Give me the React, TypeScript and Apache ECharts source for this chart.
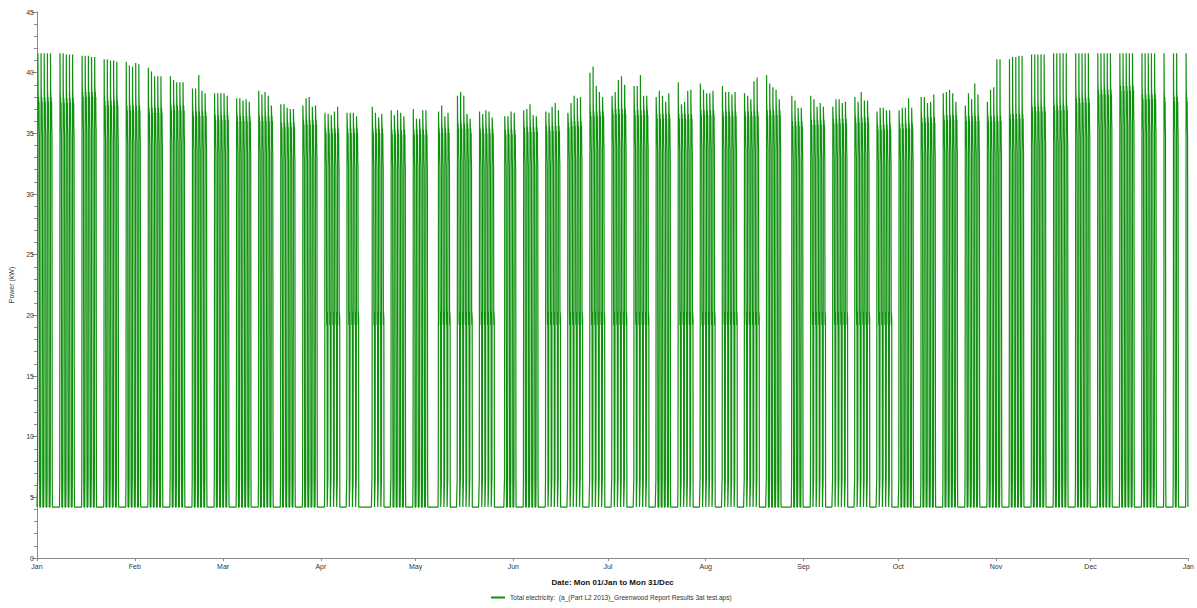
import React, { useEffect, useRef } from "react";
import * as echarts from "echarts";

// Simulation year: Mon 01/Jan to Mon 31/Dec (365 days, hourly results)
const DAYS_IN_YEAR = 365;
const MONTH_LABELS = ["Jan", "Feb", "Mar", "Apr", "May", "Jun", "Jul", "Aug", "Sep", "Oct", "Nov", "Dec", "Jan"];
const MONTH_START_DAYS = [0, 31, 59, 90, 120, 151, 181, 212, 243, 273, 304, 334, 365];

// Load levels (kW)
const BASE_LOAD = 4.2;
const LOW_LOAD = 6.6;
const MID_LOAD = 20.2;

// Hourly shape of an occupied weekday
const MORNING_HOURS = [BASE_LOAD, BASE_LOAD, BASE_LOAD, BASE_LOAD, BASE_LOAD, LOW_LOAD, MID_LOAD]; // 00-06
const PEAK_HOUR = 7;
const DARK_OFFSETS = [0, -0.4, -1.2, -2.4, -0.6, -1.5, -2.2, -1.0, -2.8, -3.4, -3.8]; // 08-18, relative to week's plateau
const WINTER_TAIL = [MID_LOAD, LOW_LOAD, BASE_LOAD, BASE_LOAD, BASE_LOAD]; // 19-23
const SUMMER_TAIL = [20.4, 19.2, 20.3, 19.3, 19.9]; // 19-23

// Daily peak for Mon..Fri of each week (null = holiday)
const DAY_PEAKS: (number | null)[][] = [
  [41.6, 41.6, 41.6, 41.6, 41.6],
  [41.6, 41.6, 41.5, 41.5, 41.5],
  [41.4, 41.4, 41.4, 41.3, 41.3],
  [41.1, 41.1, 41.0, 41.0, 40.9],
  [40.9, 40.6, 40.5, 40.8, 40.7],
  [40.4, 40.1, 39.7, 39.7, 39.7],
  [39.7, 39.4, 39.2, 39.2, 39.2],
  [38.7, 38.7, 39.8, 38.5, 38.3],
  [38.3, 38.3, 38.3, 38.3, 38.1],
  [37.9, 37.9, 37.7, 37.8, 37.6],
  [38.5, 38.2, 38.4, 38.1, 37.3],
  [37.4, 37.4, 37.1, 37.0, 37.0],
  [37.3, 37.9, 38.0, 37.2, 37.3],
  [36.7, 36.6, 36.5, 36.8, 37.2],
  [36.7, 36.7, 36.7, 36.4, null],
  [null, 37.2, 36.7, 36.3, 36.6],
  [36.9, 36.5, 36.9, 36.7, 36.4],
  [37.0, 36.2, 36.2, 36.9, 36.9],
  [null, 36.8, 37.3, 36.4, 36.7],
  [38.1, 38.4, 38.1, 36.6, 36.2],
  [36.8, 36.6, 36.9, 36.8, 36.3],
  [null, 36.4, 36.4, 36.8, 36.7],
  [36.9, 37.0, 37.4, 36.5, 36.4],
  [36.8, 36.7, 37.2, 37.5, 36.9],
  [36.7, 37.5, 38.1, 37.9, 38.0],
  [40.0, 40.5, 38.9, 38.4, 38.0],
  [38.1, 38.4, 39.4, 39.7, 39.0],
  [38.9, 38.9, 39.8, 38.1, 38.1],
  [38.0, 38.5, 38.1, 37.6, 38.3],
  [39.2, 37.4, 37.6, 38.5, 38.6],
  [39.1, 38.6, 38.3, 38.3, 38.5],
  [38.9, 38.4, 38.4, 38.2, 38.4],
  [38.3, 38.1, 37.8, 39.3, 39.6],
  [39.8, 39.1, 38.8, 38.6, 37.8],
  [null, 38.1, 37.7, 37.1, 37.1],
  [38.1, 37.8, 37.2, 37.5, 37.2],
  [37.2, 37.8, 37.8, 37.5, 37.6],
  [38.0, 37.6, 38.4, 37.7, 37.7],
  [36.8, 37.1, 37.1, 36.9, 36.9],
  [36.9, 37.1, 37.1, 37.9, 37.1],
  [38.0, 38.0, 37.5, 37.6, 38.2],
  [38.3, 38.4, 38.6, 38.3, 37.6],
  [37.3, 38.3, 37.8, 39.1, 38.2],
  [37.6, 38.6, 38.8, 41.1, 41.1],
  [41.1, 41.3, 41.3, 41.4, 41.4],
  [41.5, 41.5, 41.5, 41.5, 41.5],
  [41.6, 41.6, 41.6, 41.6, 41.6],
  [41.6, 41.6, 41.6, 41.6, 41.6],
  [41.6, 41.6, 41.6, 41.6, 41.6],
  [41.6, 41.6, 41.6, 41.6, 41.6],
  [41.6, 41.6, 41.6, 41.6, 41.6],
  [41.6, null, null, 41.6, 41.6],
  [41.6],
];

// Plateau level of the occupied hours for each week
const WEEK_PLATEAU = [
  38.6, 38.5, 39.0, 38.3, 37.9, 37.7, 37.9, 37.4, 37.1, 37.0, 37.0, 36.5, 36.7,
  36.0, 36.0, 36.0, 35.9, 35.9, 36.0, 36.4, 36.0, 35.9, 36.1, 36.2, 36.6, 37.4,
  37.6, 37.5, 37.2, 37.2, 37.5, 37.4, 37.4, 37.5, 36.6, 36.7, 36.8, 36.9, 36.3,
  36.4, 36.9, 37.1, 37.0, 37.0, 37.2, 37.8, 37.9, 38.5, 39.2, 39.5, 38.8, 38.6, 38.6,
];

// Weeks showing the hovering ~20 kW evening band
const SUMMER_WEEKS = [13, 14, 15, 18, 19, 20, 23, 24, 25, 26, 27, 29, 30, 31, 32, 35, 36, 37, 38];

const SERIES_NAME = "Total electricity:  (a_(Part L2 2013)_Greenwood Report Results 3at test.aps)";
const X_TITLE = "Date: Mon 01/Jan to Mon 31/Dec";
const Y_TITLE = "Power (kW)";

function buildSeries(): [number, number][] {
  const out: [number, number][] = [];
  for (let day = 0; day < DAYS_IN_YEAR; day++) {
    const week = Math.floor(day / 7);
    const dow = day % 7;
    const row = DAY_PEAKS[week] || [];
    const peak = dow < 5 && row[dow] != null ? (row[dow] as number) : null;
    const plateau = WEEK_PLATEAU[week];
    const tail = SUMMER_WEEKS.includes(week) ? SUMMER_TAIL : WINTER_TAIL;
    for (let h = 0; h < 24; h++) {
      let v = BASE_LOAD;
      if (peak != null) {
        if (h < PEAK_HOUR) v = MORNING_HOURS[h];
        else if (h === PEAK_HOUR) v = peak;
        else if (h <= 18) v = Math.min(plateau, peak - 0.2) + DARK_OFFSETS[h - 8];
        else v = tail[h - 19];
      }
      out.push([day + h / 24, v]);
    }
  }
  out.push([DAYS_IN_YEAR, BASE_LOAD]);
  return out;
}

const FONT = "'Liberation Sans', Arial, sans-serif";
const GREEN = "#0f900f";

export default function App() {
  const ref = useRef<HTMLDivElement>(null);
  useEffect(() => {
    if (!ref.current) return;
    const chart = echarts.init(ref.current, undefined, { renderer: "svg" });
    const data = buildSeries();
    chart.setOption({
      animation: false,
      backgroundColor: "#ffffff",
      textStyle: { fontFamily: FONT },
      grid: { left: 34, right: 8, top: 12, bottom: 50 },
      legend: {
        bottom: 2,
        left: 486,
        itemWidth: 14,
        itemHeight: 2,
        itemGap: 4,
        textStyle: { fontSize: 6.6, color: "#333", fontFamily: FONT },
        data: [{ name: SERIES_NAME, icon: "rect" }],
      },
      xAxis: {
        type: "value",
        min: 0,
        max: DAYS_IN_YEAR,
        name: X_TITLE,
        nameLocation: "middle",
        nameGap: 20,
        nameTextStyle: { fontSize: 8, fontWeight: "bold", color: "#111", fontFamily: FONT },
        axisLine: { show: true, lineStyle: { color: "#8a8a8a", width: 1 } },
        axisTick: { show: true, length: 3, lineStyle: { color: "#8a8a8a" }, customValues: MONTH_START_DAYS },
        axisLabel: {
          fontSize: 7,
          color: "#333",
          margin: 5,
          customValues: MONTH_START_DAYS,
          formatter: (v: number) => {
            const i = MONTH_START_DAYS.indexOf(Math.round(v));
            return i >= 0 ? MONTH_LABELS[i] : "";
          },
        },
        splitLine: { show: false },
      },
      yAxis: {
        type: "value",
        min: 0,
        max: 45,
        interval: 5,
        name: Y_TITLE,
        nameLocation: "middle",
        nameGap: 22,
        nameTextStyle: { fontSize: 7, color: "#333", fontFamily: FONT },
        axisLine: { show: true, lineStyle: { color: "#8a8a8a", width: 1 } },
        axisTick: { show: true, length: 5, lineStyle: { color: "#8a8a8a" } },
        minorTick: { show: true, splitNumber: 5, length: 3, lineStyle: { color: "#8a8a8a" } },
        axisLabel: { fontSize: 7, color: "#333", margin: 3 },
        splitLine: { show: false },
        minorSplitLine: { show: false },
      },
      series: [
        {
          name: SERIES_NAME,
          type: "line",
          data,
          symbol: "none",
          showSymbol: false,
          lineStyle: { color: GREEN, width: 1.2 },
          itemStyle: { color: GREEN },
          emphasis: { disabled: true },
        },
      ],
    });
    return () => chart.dispose();
  }, []);
  return (
    <div
      ref={ref}
      style={{ position: "fixed", left: 0, top: 0, width: 1197, height: 608, background: "#fff" }}
    />
  );
}
